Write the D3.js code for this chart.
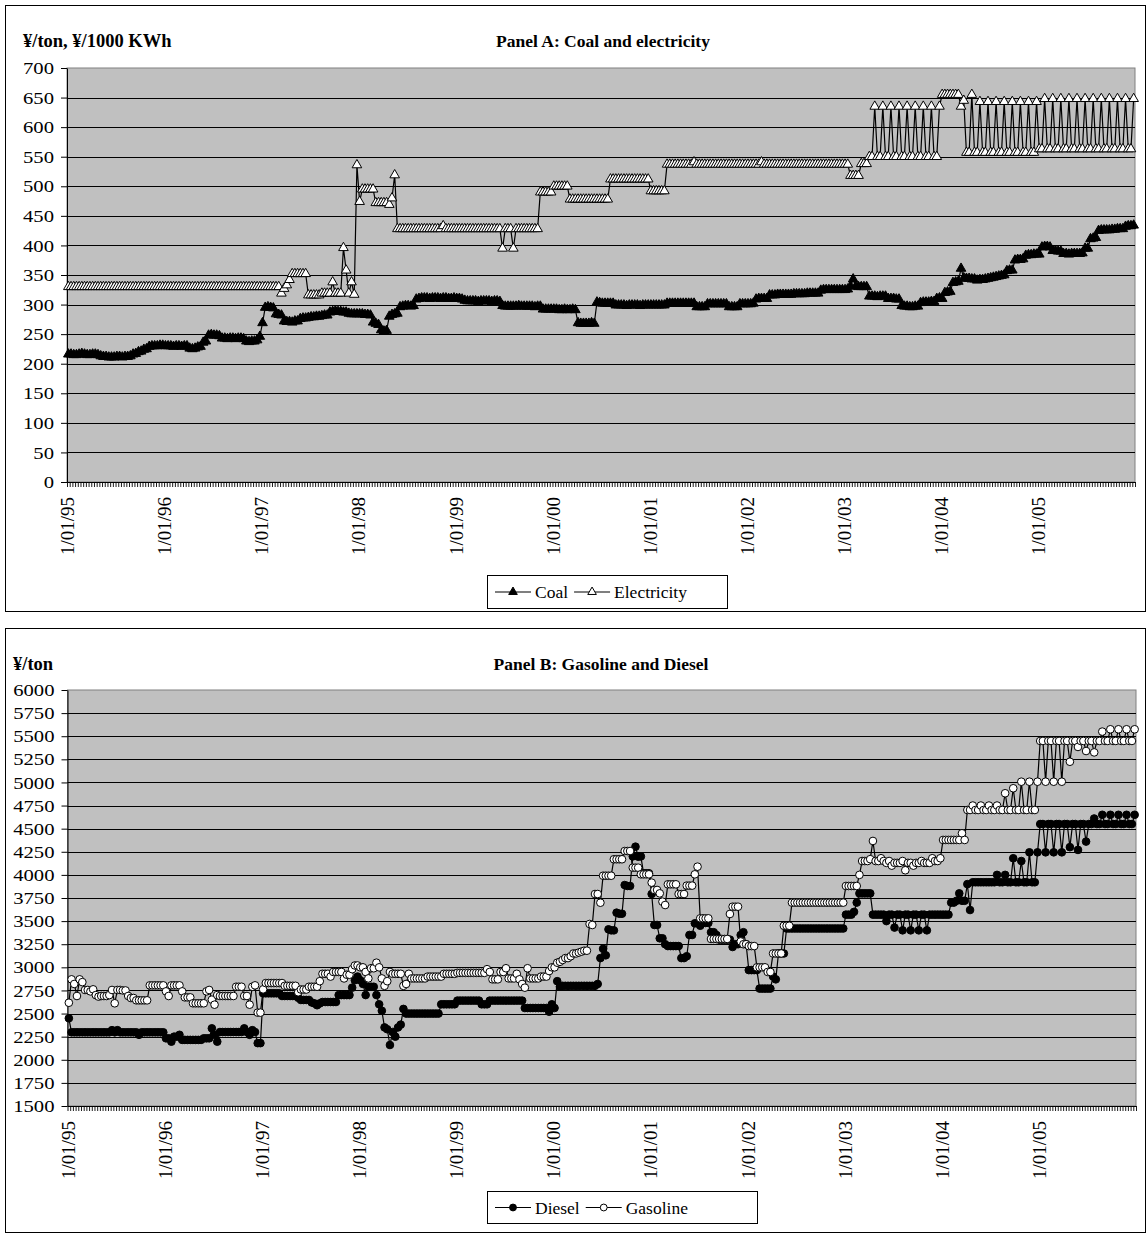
<!DOCTYPE html>
<html>
<head>
<meta charset="utf-8">
<script src="https://cdn.jsdelivr.net/npm/d3@7"></script>
<style>
  body { margin: 0; background: #fff; }
  svg text { font-family: "Liberation Serif", "Times New Roman", serif; fill: #000; }
</style>
</head>
<body>
<svg id="chart" width="1147" height="1237"></svg>
<script>
// Ten-day price observations, 36 per year, 1995-2005 (one row per year)
const xLabels = ["1/01/95","1/01/96","1/01/97","1/01/98","1/01/99","1/01/00","1/01/01","1/01/02","1/01/03","1/01/04","1/01/05"];

const yTicksA = [0,50,100,150,200,250,300,350,400,450,500,550,600,650,700];
const yTicksB = [1500,1750,2000,2250,2500,2750,3000,3250,3500,3750,4000,4250,4500,4750,5000,5250,5500,5750,6000];

// Coal, yuan per ton
const coal = [
  [216,216,215,215,216,217,216,215,215,216,216,215,213,212,212,211,211,211,212,212,211,212,212,213,216,217,220,221,224,225,229,230,230,230,231,231],
  [230,230,230,229,230,230,229,230,230,226,225,226,228,229,236,238,248,249,248,248,247,243,243,242,243,243,242,243,243,242,238,237,238,238,240,246],
  [269,295,296,295,294,284,283,282,272,271,271,270,272,272,276,277,277,278,279,279,280,280,281,282,282,287,288,289,288,288,287,287,285,284,284,284],
  [284,284,283,283,282,270,268,266,257,255,256,280,283,284,285,296,297,298,298,297,298,309,310,311,311,311,310,311,311,311,310,311,311,310,310,311],
  [310,310,309,307,306,306,306,306,305,306,306,306,306,305,306,306,305,298,297,297,297,297,297,298,297,297,297,297,297,296,297,297,292,292,292,292],
  [292,292,291,291,292,291,291,292,291,269,268,268,268,268,269,268,304,303,302,302,302,302,302,299,299,299,299,298,299,299,299,299,298,299,299,299],
  [299,299,299,299,299,299,302,302,302,302,302,302,302,302,302,302,302,296,296,296,296,301,301,301,301,301,301,301,301,296,296,296,296,301,301,301],
  [301,301,302,309,310,310,310,310,316,316,316,317,317,317,317,317,317,318,318,318,318,318,319,319,319,319,319,324,325,325,325,325,325,325,325,325],
  [325,326,331,343,331,330,330,330,330,314,314,314,313,314,314,314,310,310,310,309,309,298,297,297,296,296,297,297,303,304,304,304,305,305,310,311],
  [310,320,321,322,337,338,339,361,345,344,344,343,343,341,342,342,343,344,345,346,347,348,349,350,357,358,358,375,376,376,377,383,384,384,385,385],
  [385,397,398,398,397,391,391,390,390,386,386,385,386,386,386,386,387,395,395,411,412,413,425,426,426,426,426,427,427,428,428,428,432,433,433,434]
];

// Electricity, yuan per 1000 KWh
const electricity = [
  [330,330,330,330,330,330,330,330,330,330,330,330,330,330,330,330,330,330,330,330,330,330,330,330,330,330,330,330,330,330,330,330,330,330,330,330],
  [330,330,330,330,330,330,330,330,330,330,330,330,330,330,330,330,330,330,330,330,330,330,330,330,330,330,330,330,330,330,330,330,330,330,330,330],
  [330,330,330,330,330,330,330,319,327,333,342,352,352,352,352,352,352,316,316,316,316,316,319,319,319,319,338,319,319,319,396,358,319,338,317,536],
  [474,495,495,495,495,495,472,472,472,472,472,469,480,519,428,428,428,428,428,428,428,428,428,428,428,428,428,428,428,428,428,433,428,428,428,428],
  [428,428,428,428,428,428,428,428,428,428,428,428,428,428,428,428,428,395,428,428,428,395,428,428,428,428,428,428,428,428,428,490,490,490,490,490],
  [500,500,500,500,500,500,478,478,478,478,478,478,478,478,478,478,478,478,478,478,478,512,512,512,512,512,512,512,512,512,512,512,512,512,512,512],
  [492,492,492,492,492,492,537,537,537,537,537,537,537,537,537,537,541,537,537,537,537,537,537,537,537,537,537,537,537,537,537,537,537,537,537,537],
  [537,537,537,537,537,541,537,537,537,537,537,537,537,537,537,537,537,537,537,537,537,537,537,537,537,537,537,537,537,537,537,537,537,537,537,537],
  [537,537,518,518,518,518,538,538,538,550,550,635,550,550,635,550,550,635,550,550,635,550,550,635,550,550,635,550,550,635,550,550,635,550,550,635],
  [655,655,655,655,655,655,655,635,645,557,557,655,557,557,643,557,557,643,557,557,643,557,557,643,557,557,643,557,557,643,557,557,643,557,557,643],
  [563,563,648,563,563,648,563,563,648,563,563,648,563,563,648,563,563,648,563,563,648,563,563,648,563,563,648,563,563,648,563,563,648,563,563,648]
];

// Diesel, yuan per ton
const diesel = [
  [2449,2297,2297,2297,2297,2297,2297,2297,2297,2297,2297,2297,2297,2297,2297,2297,2320,2297,2320,2297,2297,2297,2297,2297,2297,2297,2270,2297,2297,2297,2297,2297,2297,2297,2297,2297],
  [2232,2232,2196,2250,2250,2270,2215,2215,2215,2215,2215,2215,2215,2215,2232,2232,2232,2340,2270,2196,2300,2300,2300,2300,2300,2300,2300,2300,2300,2340,2300,2270,2320,2300,2180,2180],
  [2719,2719,2719,2719,2719,2719,2719,2690,2690,2690,2690,2690,2690,2670,2647,2647,2647,2647,2620,2610,2590,2610,2625,2625,2625,2625,2625,2625,2700,2700,2700,2700,2700,2780,2860,2900],
  [2860,2820,2700,2790,2790,2790,2700,2600,2530,2350,2330,2160,2300,2250,2350,2380,2550,2500,2500,2500,2500,2500,2500,2500,2500,2500,2500,2500,2500,2500,2600,2600,2600,2600,2600,2600],
  [2640,2640,2640,2640,2640,2640,2640,2640,2640,2600,2600,2600,2640,2640,2640,2640,2640,2640,2640,2640,2640,2640,2640,2640,2640,2560,2560,2560,2560,2560,2560,2560,2560,2560,2520,2600],
  [2560,2850,2790,2800,2800,2800,2800,2800,2800,2800,2800,2800,2800,2800,2800,2800,2820,3100,3200,3130,3411,3400,3400,3591,3580,3580,3890,3880,3880,4200,4305,4197,4200,4017,4017,4017],
  [3793,3458,3458,3314,3314,3250,3230,3230,3230,3230,3230,3100,3100,3120,3350,3350,3476,3476,3450,3480,3480,3480,3380,3380,3350,3300,3300,3300,3300,3300,3220,3250,3250,3350,3380,3250],
  [2970,2970,2970,2970,2770,2770,2770,2770,2770,2900,2870,3150,3150,3150,3420,3420,3420,3420,3420,3420,3420,3420,3420,3420,3420,3420,3420,3420,3420,3420,3420,3420,3420,3420,3420,3420],
  [3570,3570,3570,3600,3700,3800,3800,3800,3800,3800,3570,3570,3570,3570,3570,3500,3570,3570,3430,3570,3570,3400,3570,3570,3400,3570,3570,3400,3570,3570,3400,3570,3570,3570,3570,3570],
  [3570,3570,3570,3700,3700,3720,3800,3720,3720,3900,3620,3920,3920,3920,3920,3920,3920,3920,3920,3920,4000,3920,3920,4000,3920,3920,4180,3920,3920,4150,3920,3920,4244,3920,3920,4244],
  [4550,4550,4244,4550,4550,4244,4550,4550,4244,4550,4550,4300,4550,4550,4270,4550,4550,4360,4550,4550,4610,4550,4550,4650,4550,4550,4650,4550,4550,4650,4550,4550,4650,4550,4550,4650]
];

// Gasoline, yuan per ton
const gasoline = [
  [2617,2870,2820,2690,2870,2840,2755,2755,2740,2762,2700,2683,2690,2690,2690,2700,2755,2611,2755,2755,2750,2750,2690,2668,2668,2643,2643,2643,2643,2643,2805,2805,2805,2805,2805,2805],
  [2740,2690,2805,2805,2805,2805,2740,2675,2675,2675,2611,2611,2611,2611,2611,2740,2755,2650,2596,2700,2690,2690,2690,2690,2690,2690,2790,2790,2790,2690,2690,2596,2790,2805,2510,2510],
  [2762,2830,2830,2830,2830,2830,2830,2830,2800,2800,2800,2800,2800,2730,2760,2760,2760,2790,2790,2790,2790,2850,2930,2930,2930,2900,2950,2950,2950,2950,2880,2920,2920,2980,3020,3020],
  [3000,3000,2950,2880,2990,2990,3050,3000,2880,2800,2850,2950,2930,2930,2930,2930,2800,2820,2930,2880,2880,2880,2880,2880,2880,2900,2900,2900,2900,2900,2900,2930,2930,2930,2930,2930],
  [2940,2940,2940,2940,2940,2940,2940,2940,2940,2940,2940,2980,2950,2870,2870,2870,2950,2950,2990,2880,2880,2880,2930,2870,2820,2780,2990,2880,2880,2880,2880,2900,2900,2900,2960,3000],
  [3000,3050,3060,3080,3100,3100,3120,3150,3150,3160,3170,3180,3180,3469,3458,3793,3793,3699,3991,3991,3991,3991,4169,4169,4169,4169,4258,4258,4258,4078,4078,4078,4006,4006,4006,4006],
  [3916,3837,3837,3800,3710,3674,3898,3898,3898,3898,3793,3793,3793,3884,3884,3884,4006,4089,3530,3530,3530,3530,3307,3307,3307,3307,3307,3307,3307,3577,3656,3656,3656,3280,3250,3250],
  [3230,3230,3230,3000,3000,3000,3000,2950,2950,3150,3150,3150,3150,3450,3450,3450,3700,3700,3700,3700,3700,3700,3700,3700,3700,3700,3700,3700,3700,3700,3700,3700,3700,3700,3700,3700],
  [3880,3880,3880,3880,3880,4000,4150,4150,4150,4170,4367,4150,4150,4180,4150,4130,4150,4100,4130,4130,4130,4150,4050,4130,4130,4100,4130,4130,4150,4130,4130,4130,4180,4150,4150,4180],
  [4378,4378,4378,4378,4378,4378,4378,4450,4378,4702,4702,4750,4702,4702,4750,4702,4702,4750,4702,4702,4750,4702,4702,4883,4702,4702,4937,4702,4702,5008,4702,4702,5008,4702,4702,5008],
  [5449,5449,5008,5449,5449,5008,5449,5449,5008,5449,5449,5224,5449,5449,5384,5449,5449,5340,5449,5449,5325,5449,5449,5550,5449,5449,5575,5449,5449,5575,5449,5449,5575,5449,5449,5575]
];

const PER_YEAR = 36;
const TICK_STRETCH = 1.18;   // value labels are drawn slightly wide
const svg = d3.select("#chart");

function drawPanel(o) {
  const g = svg.append("g");
  const p = o.plot;

  // outer frame
  g.append("rect")
    .attr("x", o.box[0] + 0.5).attr("y", o.box[1] + 0.5)
    .attr("width", o.box[2]).attr("height", o.box[3])
    .attr("fill", "#fff").attr("stroke", "#000").attr("stroke-width", 1);

  const series = o.series.map(s => ({ ...s, flat: s.values.flat() }));
  const n = series[0].flat.length;

  const x = d3.scaleLinear().domain([0, n]).range([p.l, p.r]);
  const y = d3.scaleLinear().domain([o.yTicks[0], o.yTicks[o.yTicks.length - 1]]).range([p.b, p.t]);

  // plot area
  g.append("rect")
    .attr("x", p.l).attr("y", p.t)
    .attr("width", p.r - p.l).attr("height", p.b - p.t)
    .attr("fill", "#c0c0c0").attr("stroke", "#808080").attr("stroke-width", 1);

  // horizontal gridlines
  g.append("g").selectAll("line")
    .data(o.yTicks.slice(1, -1))
    .join("line")
    .attr("x1", p.l).attr("x2", p.r)
    .attr("y1", d => Math.round(y(d)) + 0.5).attr("y2", d => Math.round(y(d)) + 0.5)
    .attr("stroke", "#000").attr("stroke-width", 1);

  // value axis
  const ya = g.append("g")
    .attr("transform", `translate(${p.l},0)`)
    .call(d3.axisLeft(y).tickValues(o.yTicks).tickSize(6).tickSizeOuter(0).tickPadding(7).tickFormat(d3.format("d")));
  ya.select(".domain").attr("stroke", "#000");
  ya.selectAll(".tick line").attr("stroke", "#000");
  ya.selectAll(".tick text")
    .attr("font-size", 17.5).attr("font-family", "Liberation Serif")
    .attr("x", -13 / TICK_STRETCH)
    .attr("transform", `scale(${TICK_STRETCH},1)`);

  // category axis: a tick at every ten-day period, a date at each new year
  const xa = g.append("g")
    .attr("transform", `translate(0,${p.b})`)
    .call(d3.axisBottom(x)
      .tickValues(d3.range(0, n + 1))
      .tickSize(5).tickSizeOuter(0)
      .tickFormat(i => (i % PER_YEAR === 0 && i < n) ? o.xLabels[i / PER_YEAR] : ""));
  xa.select(".domain").attr("stroke", "#000");
  xa.selectAll(".tick line").attr("stroke", "#000").attr("stroke-width", 0.9);
  xa.selectAll(".tick text")
    .attr("transform", "rotate(-90)")
    .attr("text-anchor", "end")
    .attr("x", -15).attr("y", 0).attr("dy", "0.35em")
    .attr("font-size", 19).attr("font-family", "Liberation Serif");

  // titles
  g.append("text").attr("x", o.titleX).attr("y", o.titleY)
    .attr("text-anchor", "middle").attr("font-size", 17.5).attr("font-weight", "bold")
    .text(o.title);
  g.append("text").attr("x", o.unitX).attr("y", o.titleY)
    .attr("font-size", 18.5).attr("font-weight", "bold")
    .text(o.unit);

  // series: line, then markers
  const line = d3.line().x((d, i) => x(i + 0.5)).y(d => y(d));
  series.forEach(s => {
    const sg = g.append("g");
    sg.append("path").datum(s.flat)
      .attr("d", line).attr("fill", "none").attr("stroke", "#000").attr("stroke-width", 1.2);
    sg.selectAll("path.mk").data(s.flat).join("path")
      .attr("class", "mk")
      .attr("transform", (d, i) => `translate(${x(i + 0.5)},${y(d)})`)
      .attr("d", d3.symbol().type(s.symbol).size(s.size))
      .attr("fill", s.fill).attr("stroke", "#000").attr("stroke-width", 1);
  });

  // legend
  const L = o.legend;
  const lg = g.append("g");
  lg.append("rect").attr("x", L.x + 0.5).attr("y", L.y + 0.5).attr("width", L.w).attr("height", L.h)
    .attr("fill", "#fff").attr("stroke", "#000");
  let cx = L.x + 8;
  const cy = L.y + L.h / 2 + 0.5;
  series.forEach(s => {
    lg.append("line").attr("x1", cx).attr("x2", cx + 36).attr("y1", cy).attr("y2", cy)
      .attr("stroke", "#000").attr("stroke-width", 1.2);
    lg.append("path").attr("transform", `translate(${cx + 18},${cy})`)
      .attr("d", d3.symbol().type(s.symbol).size(s.size * 0.8))
      .attr("fill", s.fill).attr("stroke", "#000");
    const t = lg.append("text").attr("x", cx + 40).attr("y", cy).attr("dy", "0.35em")
      .attr("font-size", 17.5).text(s.name);
    cx += 40 + t.node().getComputedTextLength() + 6;
  });
}

drawPanel({
  box: [5, 5, 1140, 606],
  plot: { l: 67, r: 1135, t: 68, b: 482 },
  yTicks: yTicksA,
  xLabels: xLabels,
  title: "Panel A: Coal and electricity",
  titleX: 603, titleY: 47,
  unit: "¥/ton, ¥/1000 KWh", unitX: 23,
  legend: { x: 487, y: 575, w: 240, h: 33 },
  series: [
    { name: "Coal", values: coal, symbol: d3.symbolTriangle, size: 40, fill: "#000" },
    { name: "Electricity", values: electricity, symbol: d3.symbolTriangle, size: 40, fill: "#fff" }
  ]
});

drawPanel({
  box: [5, 628, 1140, 604],
  plot: { l: 67.5, r: 1136, t: 690, b: 1106 },
  yTicks: yTicksB,
  xLabels: xLabels,
  title: "Panel B: Gasoline and Diesel",
  titleX: 601, titleY: 670,
  unit: "¥/ton", unitX: 13,
  legend: { x: 487, y: 1191, w: 270, h: 32 },
  series: [
    { name: "Diesel", values: diesel, symbol: d3.symbolCircle, size: 46, fill: "#000" },
    { name: "Gasoline", values: gasoline, symbol: d3.symbolCircle, size: 46, fill: "#fff" }
  ]
});
</script>
</body>
</html>
